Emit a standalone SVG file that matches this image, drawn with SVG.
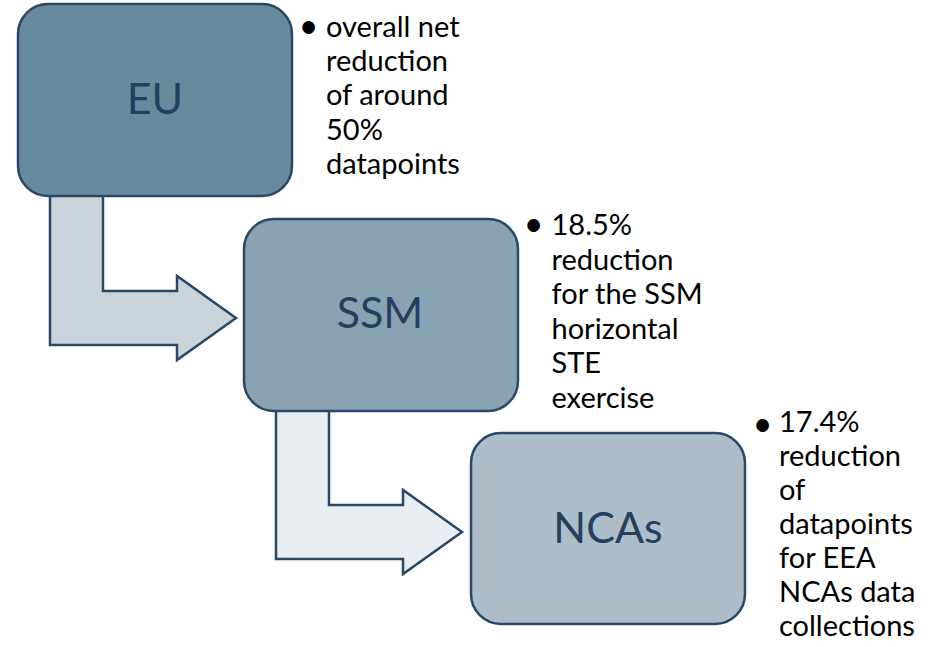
<svg xmlns="http://www.w3.org/2000/svg" width="936" height="647" viewBox="0 0 936 647">
<style>
.box{stroke:#2A4767;stroke-width:2.5}
.arr{stroke:#2A4767;stroke-width:2.5;stroke-linejoin:miter}
.lbl{font-family:Lato,"Open Sans","Liberation Sans",sans-serif;font-size:43px;fill:#24405F;text-anchor:middle}
.note{font-family:Lato,"Open Sans","Liberation Sans",sans-serif;font-size:29px;fill:#000}
.bul{font-family:Lato,"Open Sans","Liberation Sans",sans-serif;font-size:34px;fill:#000;text-anchor:middle}
</style>
<rect width="936" height="647" fill="#fff"/>
<g id="connectors">
<path class="arr" fill="#C9D4DD" d="M50,194 L103,194 L103,291 L177,291 L177,276 L236,318 L177,360 L177,345 L50,345 Z"/>
<path class="arr" fill="#E9EEF2" d="M276,409 L329,409 L329,505 L403,505 L403,490 L462,532 L403,574 L403,559 L276,559 Z"/>
</g>
<g id="eu">
<rect class="box" x="18" y="4" width="274" height="192" rx="30" fill="#678A9C"/>
<text class="lbl" x="155" y="114">EU</text>
</g>
<g id="ssm">
<rect class="box" x="244" y="219" width="274" height="192" rx="30" fill="#8AA3B2"/>
<text class="lbl" x="380" y="328">SSM</text>
</g>
<g id="ncas">
<rect class="box" x="471" y="433" width="274" height="191" rx="30" fill="#ADBDCA"/>
<text class="lbl" x="608" y="543">NCAs</text>
</g>
<g id="note-eu">
<text class="bul" x="308.5" y="37.5">•</text>
<g class="note">
<text x="326" y="36.7">overall net</text>
<text x="326" y="71">reduction</text>
<text x="326" y="105.3">of around</text>
<text x="326" y="139.6">50%</text>
<text x="326" y="174">datapoints</text>
</g>
</g>
<g id="note-ssm">
<text class="bul" x="533.5" y="236.3">•</text>
<g class="note">
<text x="551.5" y="235">18.5%</text>
<text x="551.5" y="269.5">reduction</text>
<text x="551.5" y="304">for the SSM</text>
<text x="551.5" y="338.5">horizontal</text>
<text x="551.5" y="373">STE</text>
<text x="551.5" y="407.5">exercise</text>
</g>
</g>
<g id="note-ncas">
<text class="bul" x="762.5" y="436.3">•</text>
<g class="note">
<text x="779" y="432.3">17.4%</text>
<text x="779" y="466.3">reduction</text>
<text x="779" y="500.3">of</text>
<text x="779" y="534.3">datapoints</text>
<text x="779" y="568.3">for EEA</text>
<text x="779" y="602.3">NCAs data</text>
<text x="779" y="636.3">collections</text>
</g>
</g>
</svg>
